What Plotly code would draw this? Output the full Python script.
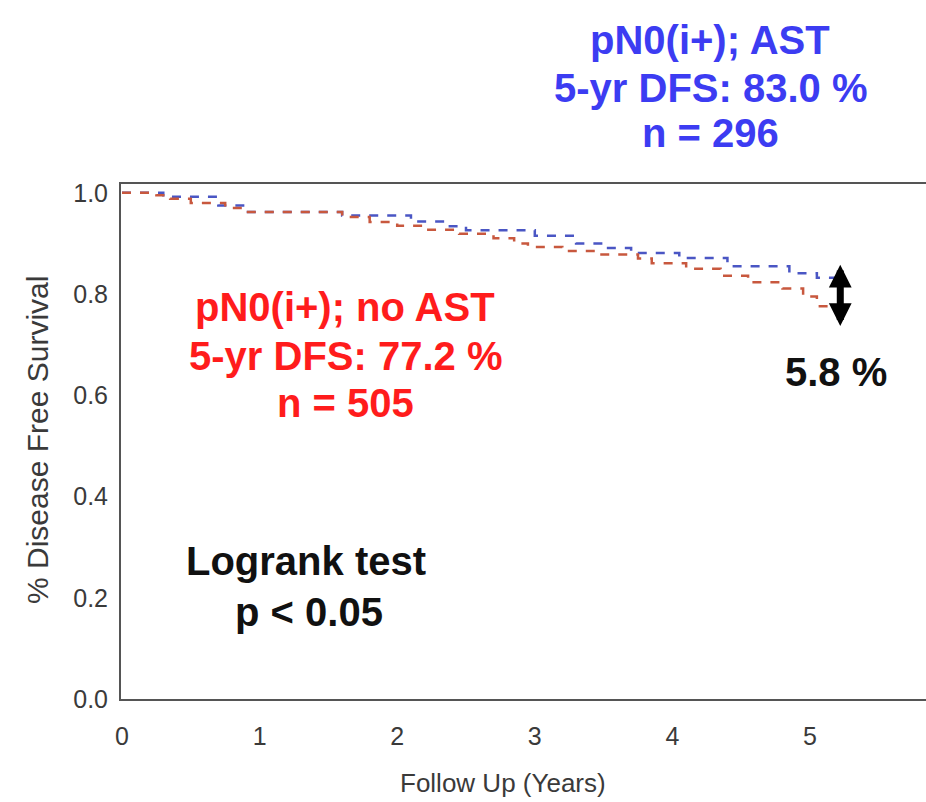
import plotly.graph_objects as go

# Kaplan-Meier style step data (years, DFS proportion)
ast_years = [0.0, 0.30, 0.70, 0.90, 1.60, 2.10, 2.35, 2.50, 3.00, 3.30, 3.50, 3.70, 4.05, 4.40, 4.85, 5.05, 5.20]
ast_dfs   = [1.000, 0.992, 0.975, 0.962, 0.955, 0.943, 0.934, 0.926, 0.915, 0.900, 0.891, 0.881, 0.871, 0.855, 0.841, 0.832, 0.832]

noast_years = [0.0, 0.25, 0.35, 0.50, 0.75, 0.90, 1.60, 1.80, 2.00, 2.20, 2.45, 2.70, 2.85, 2.95, 3.20, 3.45, 3.75, 3.85, 4.10, 4.35, 4.55, 4.80, 4.95, 5.05, 5.20]
noast_dfs   = [1.000, 0.995, 0.988, 0.980, 0.970, 0.962, 0.952, 0.942, 0.935, 0.927, 0.919, 0.910, 0.900, 0.893, 0.885, 0.878, 0.870, 0.861, 0.850, 0.836, 0.823, 0.811, 0.795, 0.776, 0.774]

x_ticks = [0, 1, 2, 3, 4, 5]
y_ticks = [0.0, 0.2, 0.4, 0.6, 0.8, 1.0]

blue_lines = ["pN0(i+); AST", "5-yr DFS: 83.0 %", "n = 296"]
red_lines = ["pN0(i+); no AST", "5-yr DFS: 77.2 %", "n = 505"]
test_lines = ["Logrank test", "p < 0.05"]
diff_label = "5.8 %"
x_title = "Follow Up (Years)"
y_title = "% Disease Free Survival"

BLUE_TXT = "#3c3cf2"
RED_TXT = "#ff1c1c"
AX_TXT = "#3a3a3a"
FONT = "Liberation Sans, Arial, sans-serif"

fig = go.Figure()
fig.add_trace(go.Scatter(x=ast_years, y=ast_dfs, mode="lines", line=dict(shape="hv", color="#4a56c4", width=2.5, dash="dash"), showlegend=False))
fig.add_trace(go.Scatter(x=noast_years, y=noast_dfs, mode="lines", line=dict(shape="hv", color="#c8583e", width=2.5, dash="dash"), showlegend=False))

W, H = 926, 802
ml, mr, mt, mb = 121, 0, 184, 103
pw, ph = W - ml - mr, H - mt - mb

def px(xp):
    return (xp - ml) / pw

def py(yp):
    return (H - mb - yp) / ph

ann = []
for txt, yc in zip(blue_lines, [40, 88, 133]):
    ann.append(dict(x=px(710), y=py(yc), xref="paper", yref="paper", text="<b>%s</b>" % txt, showarrow=False,
                    font=dict(size=40, color=BLUE_TXT, family=FONT), xanchor="center", yanchor="middle"))
for txt, yc in zip(red_lines, [307, 356, 403]):
    ann.append(dict(x=px(345), y=py(yc), xref="paper", yref="paper", text="<b>%s</b>" % txt, showarrow=False,
                    font=dict(size=40, color=RED_TXT, family=FONT), xanchor="center", yanchor="middle"))
for txt, xc, yc in zip(test_lines, [306, 309], [561, 612]):
    ann.append(dict(x=px(xc), y=py(yc), xref="paper", yref="paper", text="<b>%s</b>" % txt, showarrow=False,
                    font=dict(size=40, color="#111111", family=FONT), xanchor="center", yanchor="middle"))
ann.append(dict(x=px(836), y=py(372), xref="paper", yref="paper", text="<b>%s</b>" % diff_label, showarrow=False,
                font=dict(size=40, color="#111111", family=FONT), xanchor="center", yanchor="middle"))

# axis titles
ann.append(dict(x=px(503), y=py(783), xref="paper", yref="paper", text=x_title, showarrow=False,
                font=dict(size=26, color=AX_TXT, family=FONT), xanchor="center", yanchor="middle"))
ann.append(dict(x=px(37), y=py(440), xref="paper", yref="paper", text=y_title, showarrow=False, textangle=-90,
                font=dict(size=30, color=AX_TXT, family=FONT), xanchor="center", yanchor="middle"))

# double-headed arrow between the curves
arrow_x = 5.22
ann.append(dict(x=arrow_x, y=0.858, ax=arrow_x, ay=0.734, xref="x", yref="y", axref="x", ayref="y",
                text="", showarrow=True, arrowhead=2, startarrowhead=2, arrowside="end+start",
                arrowsize=0.65, startarrowsize=0.65, arrowwidth=7, arrowcolor="#000000",
                standoff=0, startstandoff=0))

fig.update_layout(
    width=W, height=H,
    margin=dict(l=ml, r=mr, t=mt, b=mb),
    paper_bgcolor="white", plot_bgcolor="white",
    font=dict(family=FONT, color=AX_TXT),
    annotations=ann,
    xaxis=dict(range=[-0.0073, 5.843], tickvals=x_ticks, ticktext=[str(v) for v in x_ticks],
               showgrid=False, zeroline=False, showline=True, linecolor="#555555", linewidth=2, mirror=True,
               ticks="", tickfont=dict(size=25, color=AX_TXT), ticklabelstandoff=14),
    yaxis=dict(range=[0, 1.0173], tickvals=y_ticks, ticktext=["%.1f" % v for v in y_ticks],
               showgrid=False, zeroline=False, showline=True, linecolor="#555555", linewidth=2,
               ticks="", tickfont=dict(size=25, color=AX_TXT), ticklabelstandoff=6),
)

fig.write_html("out.html")
